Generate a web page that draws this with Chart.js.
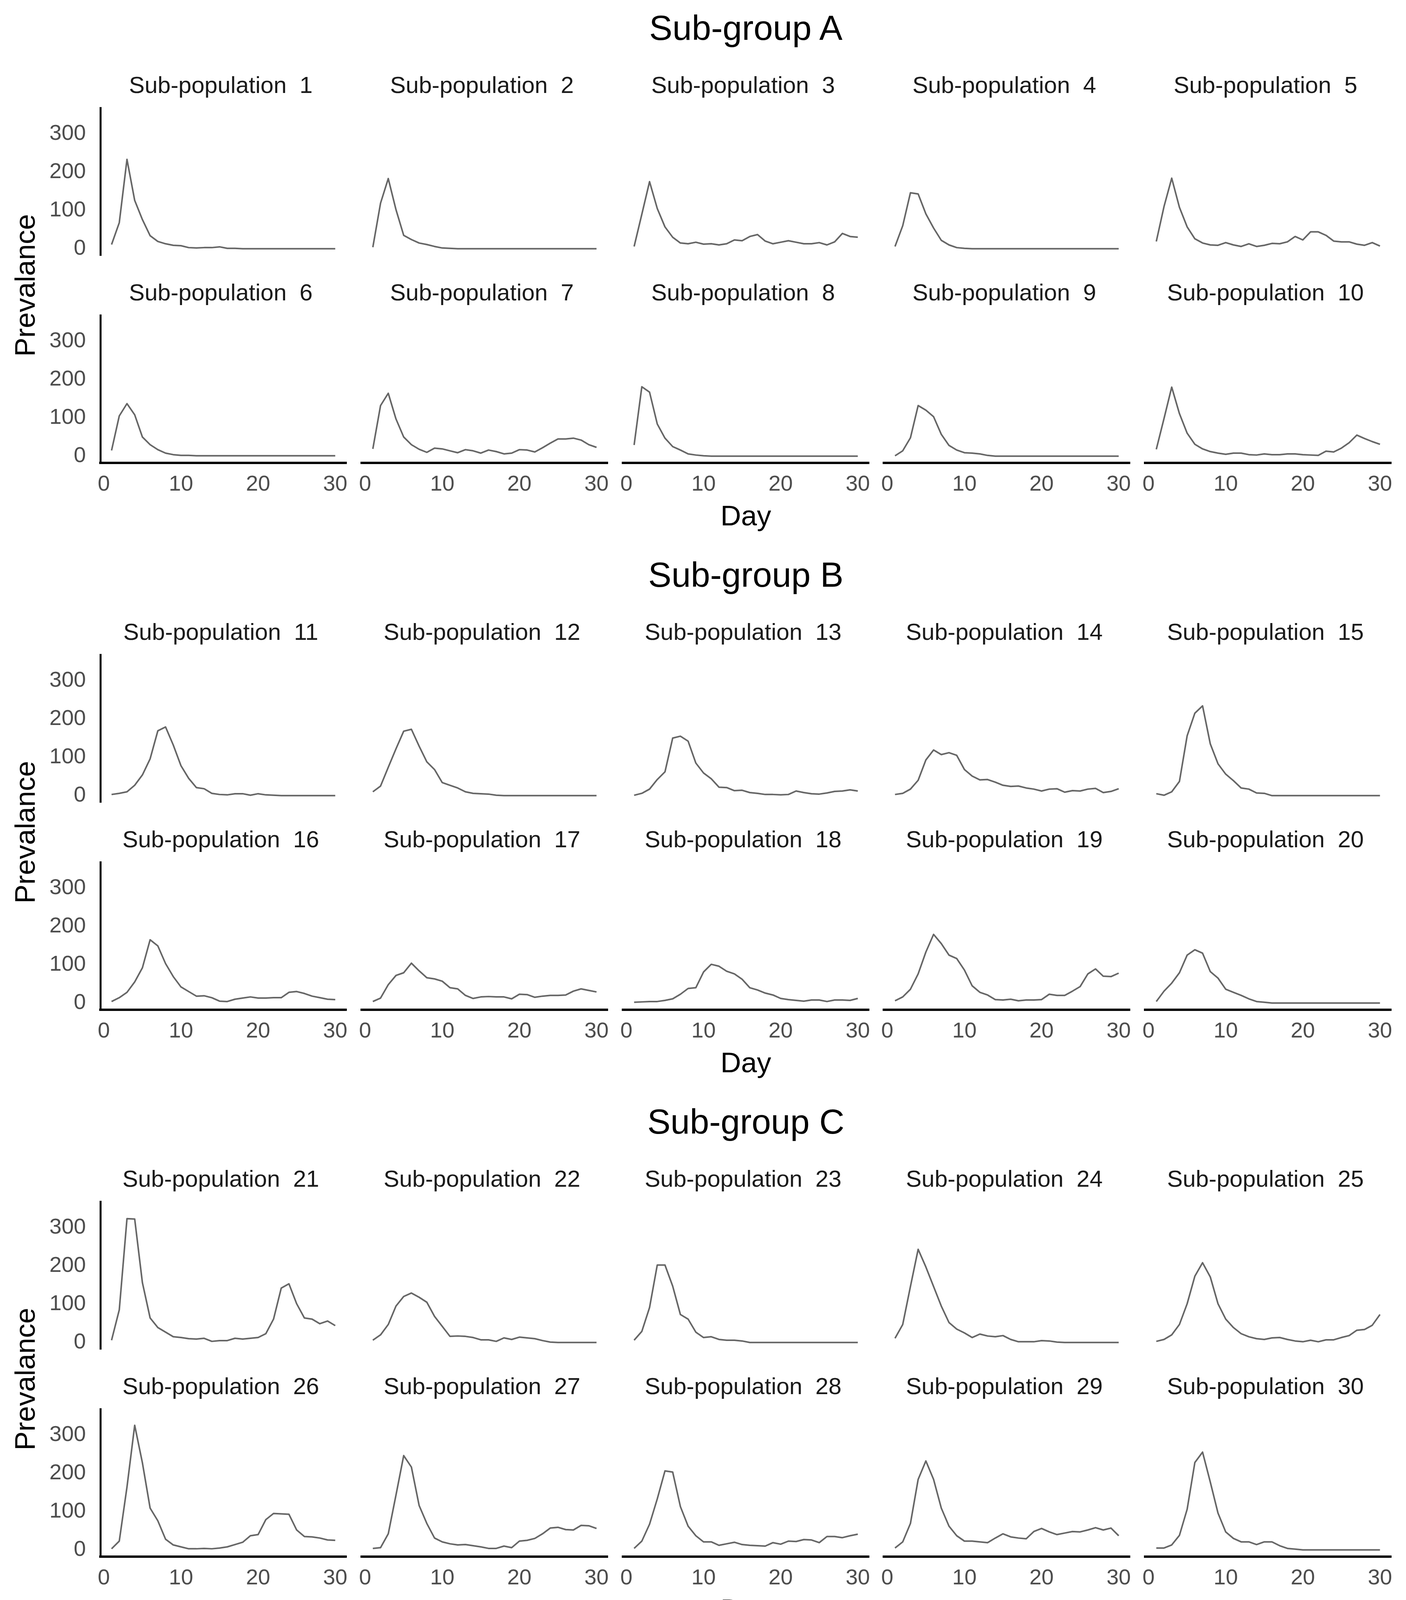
<!DOCTYPE html>
<html>
<head>
<meta charset="utf-8">
<script src="https://cdn.jsdelivr.net/npm/chart.js@4.4.1/dist/chart.umd.min.js"></script>
<style>
html, body { margin: 0; padding: 0; background: #ffffff; }
#root { position: relative; width: 3600px; height: 4200px; background: #ffffff; overflow: hidden;
        font-family: "Liberation Sans", Arial, sans-serif; }
.t { position: absolute; line-height: 1; white-space: pre; text-align: center; }
canvas { position: absolute; }
</style>
</head>
<body>
<div id="root"></div>
<script>
// ---------------- data ----------------
const days = [1,2,3,4,5,6,7,8,9,10,11,12,13,14,15,16,17,18,19,20,21,22,23,24,25,26,27,28,29,30];
const xTickValues = [0, 10, 20, 30];
const yTickValues = [0, 100, 200, 300];
const groupTitles = ["Sub-group A", "Sub-group B", "Sub-group C"];
const panelNumbers = [1,2,3,4,5,6,7,8,9,10,11,12,13,14,15,16,17,18,19,20,21,22,23,24,25,26,27,28,29,30];
const xAxisTitle = "Day";
const yAxisTitle = "Prevalance";

const subPop1  = [11,68,233,126,76,34,19,13,9,8,3,2,3,3,5,1,1,0,0,0,0,0,0,0,0,0,0,0,0,0];
const subPop2  = [4,119,183,102,35,24,15,11,6,2,1,0,0,0,0,0,0,0,0,0,0,0,0,0,0,0,0,0,0,0];
const subPop3  = [6,90,175,105,57,30,15,13,17,12,13,10,13,23,21,32,37,20,13,17,21,17,13,13,16,10,18,40,32,30];
const subPop4  = [6,60,146,143,91,54,22,10,3,1,0,0,0,0,0,0,0,0,0,0,0,0,0,0,0,0,0,0,0,0];
const subPop5  = [19,110,184,108,57,26,15,10,9,16,10,6,13,6,9,14,13,18,32,23,44,44,35,20,18,18,12,9,16,7];
const subPop6  = [15,105,137,108,50,30,17,8,4,2,2,1,1,1,1,1,1,1,1,1,1,1,1,1,1,1,1,1,1,1];
const subPop7  = [19,132,164,97,50,30,18,10,21,19,14,9,17,14,8,16,12,6,8,17,16,11,22,34,45,45,47,42,30,23];
const subPop8  = [29,181,167,84,47,25,16,6,3,1,0,0,0,0,0,0,0,0,0,0,0,0,0,0,0,0,0,0,0,0];
const subPop9  = [1,14,48,132,120,103,57,28,16,9,8,6,2,0,0,0,0,0,0,0,0,0,0,0,0,0,0,0,0,0];
const subPop10 = [18,98,180,111,60,31,19,12,8,5,8,8,4,3,6,4,4,6,6,4,3,2,13,11,21,35,55,46,38,31];
const subPop11 = [3,6,10,27,54,96,169,179,132,78,45,21,18,6,3,2,5,5,1,5,2,1,0,0,0,0,0,0,0,0];
const subPop12 = [10,25,74,122,168,173,129,88,68,34,27,20,10,6,5,4,1,0,0,0,0,0,0,0,0,0,0,0,0,0];
const subPop13 = [1,6,17,42,62,150,155,142,85,59,44,22,21,13,14,8,6,3,3,2,3,12,8,5,4,7,11,12,15,12];
const subPop14 = [3,6,17,40,93,119,107,112,105,68,51,41,42,35,27,24,25,20,17,12,17,18,9,13,12,17,19,8,11,18];
const subPop15 = [5,1,10,37,156,215,234,135,83,56,39,20,17,7,6,0,0,0,0,0,0,0,0,0,0,0,0,0,0,0];
const subPop16 = [4,14,28,55,92,165,149,103,69,42,30,18,19,14,5,4,10,13,16,13,13,14,14,28,30,25,18,14,10,9];
const subPop17 = [4,13,48,72,79,104,84,66,63,57,40,37,20,12,16,17,16,16,11,23,22,15,18,20,20,21,31,37,33,29];
const subPop18 = [2,3,4,4,7,11,23,38,40,81,101,96,83,76,62,40,34,26,21,12,9,7,5,8,8,4,8,8,7,12];
const subPop19 = [6,16,36,76,133,179,155,125,116,86,45,28,21,9,8,10,6,8,8,9,23,20,20,31,43,76,89,70,69,78];
const subPop20 = [4,31,52,79,125,139,130,82,65,36,28,20,11,4,2,0,0,0,0,0,0,0,0,0,0,0,0,0,0,0];
const subPop21 = [6,85,323,322,156,64,39,27,15,13,10,9,11,3,5,5,11,9,11,13,23,61,142,153,101,64,61,49,56,44];
const subPop22 = [6,20,47,95,120,129,118,105,68,42,16,17,16,13,7,7,3,12,8,14,12,10,5,1,0,0,0,0,0,0];
const subPop23 = [6,29,91,202,202,147,73,61,27,13,15,8,6,6,4,0,0,0,0,0,0,0,0,0,0,0,0,0,0,0];
const subPop24 = [11,47,146,243,197,146,95,52,35,25,13,22,17,15,18,8,2,2,2,5,4,1,0,0,0,0,0,0,0,0];
const subPop25 = [3,8,20,47,101,173,208,171,101,61,39,23,15,10,8,12,13,8,4,2,6,2,7,7,13,18,32,34,45,73];
const subPop26 = [3,23,164,325,227,109,76,28,13,8,3,3,4,3,5,8,14,20,37,40,79,95,94,93,52,35,34,31,26,25];
const subPop27 = [4,6,42,143,246,216,116,69,31,21,16,13,14,11,8,4,4,10,6,23,25,30,42,57,59,53,52,64,63,56];
const subPop28 = [4,23,67,133,206,203,113,62,37,21,21,12,16,20,14,12,11,10,19,15,23,22,27,26,19,35,35,32,37,41];
const subPop29 = [5,21,69,184,232,184,109,62,37,23,23,21,19,31,42,34,31,29,48,56,47,40,44,48,47,52,58,52,57,37];
const subPop30 = [5,5,13,38,106,228,255,177,96,47,30,21,21,14,21,21,11,4,2,0,0,0,0,0,0,0,0,0,0,0];

const allSeries = [subPop1,subPop2,subPop3,subPop4,subPop5,subPop6,subPop7,subPop8,subPop9,subPop10,
  subPop11,subPop12,subPop13,subPop14,subPop15,subPop16,subPop17,subPop18,subPop19,subPop20,
  subPop21,subPop22,subPop23,subPop24,subPop25,subPop26,subPop27,subPop28,subPop29,subPop30];

// ---------------- layout ----------------
const FONT = "'Liberation Sans', Arial, sans-serif";
const root = document.getElementById('root');
const GROUP_H = 1400;
const PLOT_W = 630, PLOT_H = 378;
const COL0 = 257.3, COL_STEP = 668.7;
const ROW0 = 275.5, ROW_STEP = 531;
const CL = 240, CR = 40, CT = 20, CB = 130;
const X_MIN = -0.45, X_MAX = 31.45, Y_MIN = -17.5, Y_MAX = 367.5;

function addText(txt, cx, baseline, size, color, extra) {
  const d = document.createElement('div');
  d.className = 't';
  d.textContent = txt;
  d.style.fontSize = size + 'px';
  d.style.color = color;
  d.style.width = '2000px';
  d.style.left = (cx - 1000) + 'px';
  d.style.top = (baseline - 0.8465 * size) + 'px';
  if (extra) extra(d);
  root.appendChild(d);
  return d;
}

for (let g = 0; g < 3; g++) {
  const gy = g * GROUP_H;
  const centerX = COL0 + (4 * COL_STEP + PLOT_W) / 2;
  addText(groupTitles[g], centerX, 102.6 + gy, 89, '#000000');
  addText(xAxisTitle, centerX, 1345 + gy, 73, '#000000');
  // rotated y title
  const yc = 730.5 + gy;
  const d = document.createElement('div');
  d.className = 't';
  d.textContent = yAxisTitle;
  d.style.fontSize = '73px';
  d.style.color = '#000000';
  d.style.width = '800px';
  d.style.height = '73px';
  d.style.left = (62.7 - 400) + 'px';
  d.style.top = (yc - 36.5) + 'px';
  d.style.transform = 'rotate(-90deg)';
  d.style.transformOrigin = '50% 50%';
  root.appendChild(d);

  for (let r = 0; r < 2; r++) {
    for (let c = 0; c < 5; c++) {
      const idx = g * 10 + r * 5 + c;
      const plotLeft = COL0 + c * COL_STEP;
      const plotTop = ROW0 + r * ROW_STEP + gy;
      addText('Sub-population  ' + panelNumbers[idx], plotLeft + PLOT_W / 2 - 7, 239 + r * ROW_STEP + gy, 60, '#1a1a1a');

      const isLeft = c === 0, isBottom = r === 1;
      const cv = document.createElement('canvas');
      const W = CL + PLOT_W + CR, H = CT + PLOT_H + CB;
      cv.width = W; cv.height = H;
      cv.style.width = W + 'px'; cv.style.height = H + 'px';
      cv.style.left = Math.round(plotLeft - CL) + 'px';
      cv.style.top = Math.round(plotTop - CT) + 'px';
      root.appendChild(cv);

      const vals = allSeries[idx];
      new Chart(cv, {
        type: 'line',
        data: {
          datasets: [{
            data: days.map((d, i) => ({ x: d, y: vals[i] })),
            borderColor: '#666666',
            borderWidth: 4,
            pointRadius: 0,
            fill: false,
            tension: 0,
            borderJoinStyle: 'round'
          }]
        },
        options: {
          responsive: false,
          animation: false,
          devicePixelRatio: 1,
          layout: { padding: { left: 0, right: CR, top: CT, bottom: 0 } },
          plugins: { legend: { display: false }, tooltip: { enabled: false }, title: { display: false } },
          scales: {
            x: {
              type: 'linear', min: X_MIN, max: X_MAX,
              afterBuildTicks: s => { s.ticks = xTickValues.map(v => ({ value: v })); },
              afterFit: s => { s.height = CB; s.paddingLeft = 0; s.paddingRight = 0; },
              grid: { display: false, drawTicks: false },
              border: { display: isBottom, width: 6, color: '#000000' },
              ticks: { display: isBottom, autoSkip: false, maxRotation: 0, padding: 22,
                       color: '#4d4d4d', font: { family: FONT, size: 56 } }
            },
            y: {
              type: 'linear', min: Y_MIN, max: Y_MAX,
              afterBuildTicks: s => { s.ticks = yTickValues.map(v => ({ value: v })); },
              afterFit: s => { s.width = CL; s.paddingTop = 0; s.paddingBottom = 0; },
              grid: { display: false, drawTicks: false },
              border: { display: isLeft, width: 5, color: '#000000' },
              ticks: { display: isLeft, padding: 37, color: '#4d4d4d', font: { family: FONT, size: 56 } }
            }
          }
        }
      });
    }
  }
}
</script>
</body>
</html>
